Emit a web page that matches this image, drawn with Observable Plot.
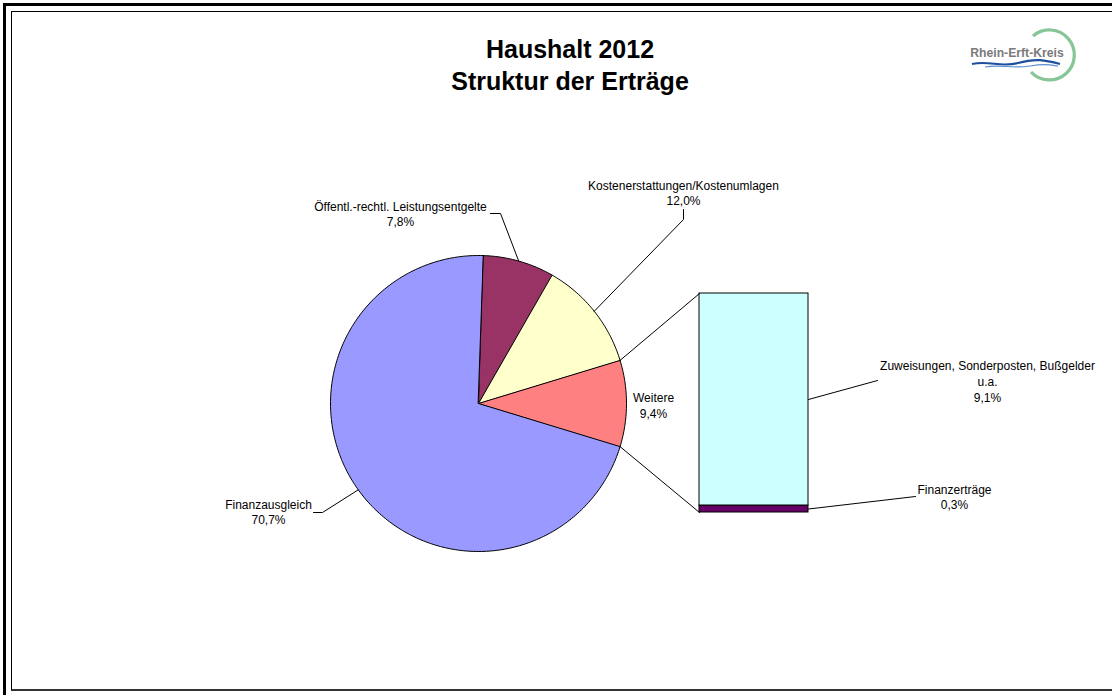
<!DOCTYPE html>
<html>
<head>
<meta charset="utf-8">
<script src="https://cdn.jsdelivr.net/npm/d3@7"></script>
<script src="https://cdn.jsdelivr.net/npm/@observablehq/plot@0.6"></script>
<style>
  html, body { margin: 0; padding: 0; background: #fff; }
  #wrap { position: relative; width: 1112px; height: 695px; overflow: hidden; background: #fff;
          font-family: "Liberation Sans", Arial, sans-serif; }
  .outer { position: absolute; left: 3px; top: 3px; width: 2000px; height: 2000px;
           border-top: 3px solid #000; border-left: 3px solid #000; }
  .inner { position: absolute; left: 11px; top: 11px; width: 2000px; height: 677px;
           border-top: 1.5px solid #000; border-left: 1.5px solid #000; border-bottom: 2px solid #333; }
  #title { position: absolute; left: 0; top: 33px; width: 1140px; text-align: center;
           font-weight: bold; font-size: 25px; line-height: 32px; color: #000; }
  #logo { position: absolute; left: 960px; top: 22px; }
  #chart { position: absolute; left: 0; top: 120px; }
</style>
</head>
<body>
<div id="wrap">
  <div class="outer"></div>
  <div class="inner"></div>
  <div id="title">Haushalt 2012<br>Struktur der Erträge</div>
  <svg id="logo" width="130" height="66" viewBox="960 22 130 66">
    <path d="M 1033 36 A 25 25 0 1 1 1031 72" fill="none" stroke="#86c596" stroke-width="3.2"/>
    <text x="1017" y="57" text-anchor="middle" font-family="Liberation Sans, Arial, sans-serif"
          font-weight="bold" font-size="12.2" fill="#7a7a7a">Rhein-Erft-Kreis</text>
    <path d="M 972 64 C 990 60, 1000 68, 1018 63 S 1045 60, 1060 64" fill="none" stroke="#1d4f9e" stroke-width="2.2"/>
    <path d="M 985 67 C 1000 64, 1012 69, 1030 66 S 1050 65, 1058 66" fill="none" stroke="#5b8fd0" stroke-width="1.2"/>
  </svg>
  <div id="chart"></div>
</div>
<script>
// ---------- data ----------
const pieLabels = ["Öffentl.-rechtl. Leistungsentgelte", "Kostenerstattungen/Kostenumlagen", "Weitere", "Finanzausgleich"];
const pieValues = [7.8, 12.0, 9.4, 70.7];
const barLabels = ["Finanzerträge", "Zuweisungen, Sonderposten, Bußgelder\nu.a."];
const barValues = [0.3, 9.1];

// ---------- styles / layout (not data) ----------
const pieColors = {"Öffentl.-rechtl. Leistungsentgelte": "#993366", "Kostenerstattungen/Kostenumlagen": "#FFFFCC",
                   "Weitere": "#FF8080", "Finanzausgleich": "#9999FF"};
const barColors = {"Finanzerträge": "#660066", "Zuweisungen, Sonderposten, Bußgelder\nu.a.": "#CCFFFF"};
const pieGeom = {cx: 478, cy: 403, r: 148};
const barGeom = {x0: 699, x1: 808, yTop: 293, yBottom: 512};
const labelLayout = {
  "Öffentl.-rechtl. Leistungsentgelte": {x: 400, y: 213, leader: [[490, 213], [500, 213]], target: "pie"},
  "Kostenerstattungen/Kostenumlagen": {x: 683, y: 192, leader: [[683, 209], [683, 219]], target: "pie"},
  "Weitere": {x: 653, y: 404.5, leader: null},
  "Finanzausgleich": {x: 268, y: 511, leader: [[313, 512], [322, 512]], target: "pie"},
  "Zuweisungen, Sonderposten, Bußgelder\nu.a.": {x: 987, y: 380.5, leader: [[877, 380]], target: "bar"},
  "Finanzerträge": {x: 954, y: 496, leader: [[915, 496]], target: "bar"}
};
const fmt = v => v.toFixed(1).replace(".", ",") + "%";
const focusLabel = "Weitere";

// ---------- geometry derived from data ----------
const total = d3.sum(pieValues);
const iFocus = pieLabels.indexOf(focusLabel);
const before = d3.sum(pieValues.slice(0, iFocus));
const startAngle = 90 - (before + pieValues[iFocus] / 2) / total * 360;
const pt = (a, r = pieGeom.r) => {
  const t = a * Math.PI / 180;
  return [pieGeom.cx + r * Math.sin(t), pieGeom.cy - r * Math.cos(t)];
};
let acc = 0;
const slices = pieLabels.map((name, i) => {
  const a0 = startAngle + acc / total * 360;
  acc += pieValues[i];
  const a1 = startAngle + acc / total * 360;
  const n = Math.max(2, Math.ceil(a1 - a0));
  const pts = [[pieGeom.cx, pieGeom.cy]];
  for (let k = 0; k <= n; k++) pts.push(pt(a0 + (a1 - a0) * k / n));
  return {name, value: pieValues[i], a0, a1, mid: (a0 + a1) / 2, pts};
});

const barTotal = d3.sum(barValues);
const k = (barGeom.yBottom - barGeom.yTop) / barTotal;
let bacc = 0;
const segs = barLabels.map((name, i) => {
  const y1 = barGeom.yBottom - bacc * k;
  bacc += barValues[i];
  const y2 = barGeom.yBottom - bacc * k;
  return {name, value: barValues[i], y1, y2};
});

const focus = slices[iFocus];
const connectors = [
  {id: "top", pts: [pt(focus.a0), [barGeom.x0, barGeom.yTop]]},
  {id: "bottom", pts: [pt(focus.a1), [barGeom.x0, barGeom.yBottom]]}
];

const labels = [
  ...slices.map(s => ({name: s.name, text: s.name + "\n" + fmt(s.value)})),
  ...segs.map(s => ({name: s.name, text: s.name + "\n" + fmt(s.value)}))
].map(d => ({...d, ...labelLayout[d.name]}));

const leaders = [];
for (const d of labels) {
  if (!d.leader) continue;
  let end;
  if (d.target === "pie") end = pt(slices.find(s => s.name === d.name).mid);
  else { const s = segs.find(s => s.name === d.name); end = [barGeom.x1, (s.y1 + s.y2) / 2]; }
  [...d.leader, end].forEach((p, j) => leaders.push({id: d.name, x: p[0], y: p[1], j}));
}

const marks = [];
for (const s of slices) {
  marks.push(Plot.line(s.pts, {x: d => d[0], y: d => d[1], fill: pieColors[s.name], stroke: "#000",
    strokeWidth: 1, curve: "linear-closed"}));
}
marks.push(Plot.rect(segs, {x1: () => barGeom.x0, x2: () => barGeom.x1, y1: "y1", y2: "y2",
  fill: d => barColors[d.name], stroke: "#000", strokeWidth: 1}));
for (const c of connectors) {
  marks.push(Plot.line(c.pts, {x: d => d[0], y: d => d[1], stroke: "#000", strokeWidth: 1}));
}
marks.push(Plot.line(leaders, {x: "x", y: "y", z: "id", stroke: "#000", strokeWidth: 1}));
marks.push(Plot.text(labels, {x: "x", y: "y", text: "text", fontSize: 12, lineHeight: 1.3,
  lineAnchor: "middle", textAnchor: "middle", fill: "#000"}));

const chart = Plot.plot({
  width: 1112,
  height: 575,
  margin: 0,
  x: {type: "linear", domain: [0, 1112], range: [0, 1112], axis: null},
  y: {type: "linear", domain: [120, 695], range: [0, 575], axis: null},
  style: {fontFamily: "'Liberation Sans', Arial, sans-serif", background: "transparent", overflow: "visible"},
  marks
});
document.getElementById("chart").appendChild(chart);
</script>
</body>
</html>
